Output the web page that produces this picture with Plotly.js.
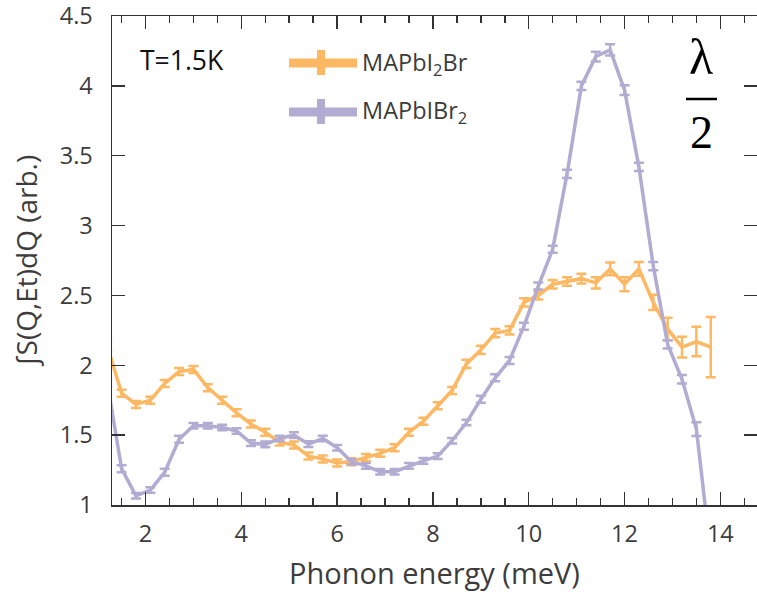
<!DOCTYPE html>
<html><head><meta charset="utf-8">
<script src="https://cdn.plot.ly/plotly-3.0.1.min.js"></script>
<style>html,body{margin:0;padding:0;background:#fff;overflow:hidden}</style>
</head><body><div id="plot" style="width:757px;height:605px"></div>
<script>
// Phonon energy (meV)
const energy = [1.2,1.5,1.8,2.1,2.4,2.7,3.0,3.3,3.6,3.9,4.2,4.5,4.8,5.1,5.4,5.7,6.0,6.3,6.6,6.9,7.2,7.5,7.8,8.1,8.4,8.7,9.0,9.3,9.6,9.9,10.2,10.5,10.8,11.1,11.4,11.7,12.0,12.3,12.6,12.9,13.2,13.5,13.8];
// MAPbI2Br
const i2brName = 'MAPbI<sub>2</sub>Br';
const i2brValues = [2.14,1.80,1.72,1.75,1.87,1.955,1.97,1.84,1.75,1.66,1.58,1.52,1.45,1.43,1.35,1.33,1.30,1.31,1.34,1.37,1.41,1.52,1.60,1.71,1.82,2.01,2.11,2.23,2.25,2.45,2.50,2.58,2.60,2.62,2.59,2.69,2.58,2.69,2.45,2.26,2.13,2.17,2.13];
const i2brErrors = [0.03,0.025,0.025,0.025,0.025,0.025,0.025,0.025,0.025,0.025,0.025,0.025,0.025,0.025,0.025,0.025,0.025,0.025,0.025,0.025,0.025,0.025,0.025,0.025,0.025,0.03,0.03,0.03,0.03,0.03,0.03,0.03,0.03,0.035,0.04,0.045,0.05,0.05,0.055,0.08,0.075,0.105,0.215];
// MAPbIBr2
const ibr2Name = 'MAPbIBr<sub>2</sub>';
const ibr2Values = [1.88,1.26,1.066,1.107,1.234,1.47,1.567,1.567,1.555,1.53,1.443,1.434,1.476,1.50,1.436,1.476,1.41,1.31,1.28,1.238,1.238,1.28,1.316,1.35,1.46,1.59,1.757,1.91,2.035,2.28,2.567,2.83,3.37,4.0,4.21,4.257,3.97,3.42,2.71,2.15,1.90,1.543,0.65];
const ibr2Errors = [0.03,0.025,0.02,0.02,0.025,0.025,0.02,0.02,0.02,0.02,0.02,0.02,0.02,0.02,0.02,0.02,0.02,0.02,0.02,0.02,0.02,0.02,0.02,0.02,0.02,0.02,0.025,0.025,0.025,0.025,0.025,0.025,0.03,0.03,0.035,0.04,0.035,0.03,0.03,0.03,0.03,0.05,0.05];
const tempLabel = 'T=1.5K';
const xTitle = 'Phonon energy (meV)';
const yTitle = '∫S(Q,Et)dQ (arb.)';

const orange = '#fdb863', purple = '#b2abd2';
const W = 757, H = 605, L = 112, R = 0, T = 16, B = 100;
const px = x => (x - L) / (W - L - R);
const py = y => (H - B - y) / (H - T - B);
const textColor = '#3c3c3c';
const font = 'Open Sans, Noto Sans, sans-serif';

function series(x, y, e, color, name) {
  return {x: x, y: y, name: name, type: 'scatter', mode: 'lines', showlegend: false,
    line: {color: color, width: 3.5},
    error_y: {type: 'data', array: e, visible: true, color: color, thickness: 2.5, width: 5}};
}
const data = [
  series(energy, i2brValues, i2brErrors, orange, i2brName),
  series(energy, ibr2Values, ibr2Errors, purple, ibr2Name)
];

const legendItems = [[i2brName, orange, 63], [ibr2Name, purple, 112]];
const shapes = [];
const annotations = [];
legendItems.forEach(([name, color, y]) => {
  shapes.push({type: 'line', xref: 'paper', yref: 'paper', x0: px(289), x1: px(357), y0: py(y), y1: py(y), line: {color: color, width: 9}});
  shapes.push({type: 'line', xref: 'paper', yref: 'paper', x0: px(321), x1: px(321), y0: py(y - 13), y1: py(y + 12), line: {color: color, width: 8}});
  annotations.push({xref: 'paper', yref: 'paper', x: px(360), y: py(y), xanchor: 'left', yanchor: 'middle', showarrow: false, text: name, font: {family: font, size: 23.5, color: textColor}});
});
annotations.push({xref: 'paper', yref: 'paper', x: px(138), y: py(60), xanchor: 'left', yanchor: 'middle', showarrow: false, text: tempLabel, font: {family: font, size: 26.5, color: '#111'}});
annotations.push({xref: 'paper', yref: 'paper', x: px(701), y: py(57), xanchor: 'center', yanchor: 'middle', showarrow: false, text: 'λ', font: {family: 'Liberation Serif, DejaVu Serif, serif', size: 50, color: '#000'}});
annotations.push({xref: 'paper', yref: 'paper', x: px(701), y: py(133), xanchor: 'center', yanchor: 'middle', showarrow: false, text: '2', font: {family: 'Liberation Serif, DejaVu Serif, serif', size: 46, color: '#000'}});
shapes.push({type: 'line', xref: 'paper', yref: 'paper', x0: px(686), x1: px(717), y0: py(99), y1: py(99), line: {color: '#000', width: 2.5}});

const axisCommon = {showline: true, linecolor: '#333', linewidth: 1.5, mirror: 'ticks', ticks: 'inside', ticklen: 13, tickwidth: 1.5, tickcolor: '#333', showgrid: false, zeroline: false,
  ticklabeloverflow: 'allow', tickfont: {family: font, size: 23.5, color: textColor}};
const layout = {
  width: W, height: H, margin: {l: L, r: R, t: T, b: B},
  paper_bgcolor: '#fff', plot_bgcolor: '#fff', showlegend: false,
  xaxis: Object.assign({}, axisCommon, {range: [1.3, 1.3 + (W - L - R) / 47.9], dtick: 2, tick0: 0, ticklabelstandoff: 7,
    minor: {dtick: 0.5, ticks: 'inside', ticklen: 7, tickwidth: 1.5, tickcolor: '#333'},
    title: {text: xTitle, standoff: 16, font: {family: font, size: 29, color: textColor}}}),
  yaxis: Object.assign({}, axisCommon, {range: [1, 4.5], dtick: 0.5, tick0: 0, ticklabelstandoff: 13,
    title: {text: yTitle, standoff: 14, font: {family: font, size: 28, color: textColor}}}),
  shapes: shapes, annotations: annotations
};
Plotly.newPlot('plot', data, layout, {displayModeBar: false, staticPlot: true});
</script></body></html>
